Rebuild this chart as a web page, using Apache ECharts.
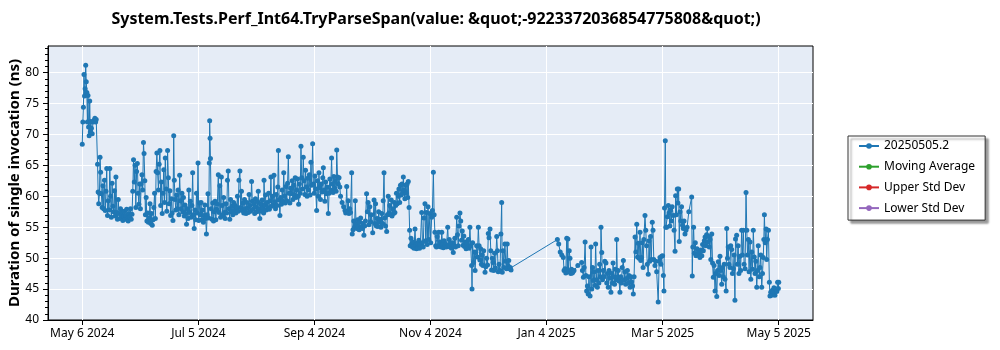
<!DOCTYPE html>
<html><head><meta charset="utf-8">
<script src="https://cdn.jsdelivr.net/npm/echarts@6/dist/echarts.min.js"></script>
<style>html,body{margin:0;padding:0;background:#fff}#c{width:1000px;height:350px}</style>
</head><body><div id="c"></div>
<script>
// x = days since May 6 2024, y = duration (ns)
const chartTitle = 'System.Tests.Perf_Int64.TryParseSpan(value: &quot;-9223372036854775808&quot;)';
const yAxisTitle = 'Duration of single invocation (ns)';
const tickDays = [0, 60.667, 121.333, 182, 242.667, 303.333, 364];
const tickLabels = ['May 6 2024', 'Jul 5 2024', 'Sep 4 2024', 'Nov 4 2024', 'Jan 4 2025', 'Mar 5 2025', 'May 5 2025'];
const yTicks = [40, 45, 50, 55, 60, 65, 70, 75, 80];
const seriesNames = ['20250505.2', 'Moving Average', 'Upper Std Dev', 'Lower Std Dev'];
const seriesColors = ['#1f77b4', '#2ca02c', '#d62728', '#9467bd'];

const spring2024 = [[0.0,68.4],[0.3,72.0],[0.6,74.4],[0.9,79.7],[1.2,76.2],[1.5,77.4],[1.8,81.2],[2.1,78.5],[2.4,76.8],[2.7,72.0],[3.0,76.3],[3.3,71.2],[3.6,69.8],[3.9,75.4],[4.2,70.4],[4.5,72.1],[4.8,71.0],[5.2,70.1],[5.6,72.0],[6.2,72.3],[6.6,72.6],[7.0,72.0],[7.3,72.4],
[8.0,65.2],[8.3,60.7],[8.6,58.8],[9.0,60.5],[9.3,66.3],[9.6,63.9],[10.0,60.4],[10.4,58.2],[10.8,61.7],[11.2,58.0],[11.6,62.6],[12.0,57.7],[12.4,60.8],[12.8,64.5],[13.2,56.9],[13.6,59.3],[14.0,57.8],[14.4,64.5],[14.8,60.0],[15.2,56.6],[15.6,62.1],[16.0,58.4],[16.4,57.5],[16.8,60.9],[17.2,56.8],[17.6,63.1],[18.0,57.4],[18.4,56.3],[18.8,59.5],[19.2,57.2],[19.6,56.4],[20.0,58.0],[20.4,56.9],[20.8,57.5],[21.2,56.1],[21.6,56.8],[22.0,57.6],[22.4,56.3],[22.8,56.9],[23.2,57.9],[23.6,56.4],[24.0,56.0],[24.4,57.2],[24.8,56.6],[25.2,58.0],[25.6,56.3],[26.0,57.1],[26.4,60.8],[26.8,65.9],[27.2,62.3],[27.6,65.0],[28.0,58.2],[28.4,64.0],[28.8,65.3],[29.2,60.5],[29.6,58.7],[30.0,62.0],
[30.4,58.0],[30.8,62.0],[31.2,63.5],[31.6,61.0],[32.0,68.7],[32.3,66.9],[32.7,62.5],[33.0,57.0],[33.4,59.8],[33.8,56.0],[34.2,57.3],[34.6,55.8],[35.0,56.5],[35.4,58.8],[35.8,55.6],[36.2,57.2],[36.6,55.3],[37.0,56.2],[37.4,58.2],[37.8,60.5],[38.2,56.4],[38.6,64.0],[39.0,67.0],[39.4,63.8],[39.8,61.0],[40.2,65.2],[40.6,67.4],[41.0,58.5],[41.4,62.3],[41.8,57.2],
[42.2,60.5],[42.6,64.3],[43.0,59.0],[43.4,66.2],[43.8,61.2],[44.2,57.6],[44.6,67.4],[45.0,63.0],[45.4,58.8],[45.8,60.9],[46.2,56.9],[46.6,59.6],[47.0,57.3],[47.4,56.1],[47.8,69.8],[48.1,62.6],[48.5,59.5],[48.9,57.8],[49.3,60.2],[49.7,58.0],[50.1,61.0],[50.5,57.0],[50.9,63.4],[51.3,59.3],[51.7,58.0],[52.1,60.5],
[52.5,57.5],[52.9,59.8],[53.3,56.8],[53.7,58.6],[54.1,57.2],[54.5,55.5],[54.9,58.0],[55.3,56.4],[55.7,61.0],[56.1,57.4],[56.5,59.2],[56.9,56.6],[57.3,58.5],[57.7,63.8],[58.1,57.0],[58.5,54.8],[58.9,57.8],[59.3,56.2],[59.7,60.5],[60.1,57.3],[60.5,65.4],[60.9,56.1],[61.3,58.9],[61.7,57.0]];

const summer2024 = [[62.1,59.0],[62.5,56.2],[62.9,57.8],[63.3,55.8],[63.7,56.9],[64.1,58.6],[64.5,56.4],[64.9,53.9],[65.3,57.0],[65.7,60.4],[66.1,56.5],[66.4,65.4],[66.6,72.2],[66.8,69.4],[67.0,66.1],[67.4,58.0],[67.8,56.3],[68.2,58.9],[68.6,56.0],[69.0,57.5],[69.4,59.2],[69.8,56.2],[70.2,57.9],[70.6,58.7],[71.1,63.5],[71.5,57.4],[71.9,61.7],[72.3,56.6],[72.7,63.1],[73.1,58.5],[73.5,57.0],[73.9,59.8],[74.3,57.4],[74.7,56.4],[75.1,58.8],[75.5,57.3],[75.9,62.6],[76.3,64.1],[76.7,58.0],[77.1,56.3],[77.5,59.5],[77.9,57.5],[78.3,58.4],[78.7,57.0],[79.1,59.0],[79.5,57.7],[79.9,58.5],[80.3,57.3],[80.7,58.2],[81.1,60.0],[81.5,57.6],[81.9,62.6],[82.4,64.1],[82.8,58.2],[83.2,60.8],[83.6,57.7],
[84.0,58.9],[84.4,57.3],[84.8,59.5],[85.2,58.0],[85.6,57.2],[86.0,59.0],[86.4,58.1],[86.8,57.4],[87.2,60.3],[87.6,58.5],[88.0,57.6],[88.5,62.4],[88.9,59.2],[89.3,57.9],[89.7,58.8],[90.1,57.2],[90.5,59.6],[90.9,58.3],[91.3,57.5],[91.7,59.1],[92.0,60.8],[92.4,58.0],[92.8,56.4],[93.2,58.7],[93.6,57.6],[94.0,59.4],[94.4,58.2],[94.8,57.3],[95.0,62.6],[95.4,58.6],[95.8,60.2],[96.2,57.8],[96.6,59.0],[97.0,58.2],[97.4,60.5],[97.8,57.9],[98.2,59.3],[98.6,63.1],[99.0,58.4],[99.4,60.0],[99.8,58.6],[100.2,63.4],[100.6,59.1],[101.0,58.0],[101.4,60.3],[101.8,58.5],[102.2,61.5],[102.5,67.4],[102.9,59.4],[103.3,56.9],[103.7,59.8],[104.1,58.7],[104.5,61.0],[104.9,59.2],[105.3,63.8],[105.7,60.0],[106.1,58.9],[106.5,61.6],[106.9,59.3],
[107.3,62.1],[107.7,66.4],[108.1,60.5],[108.5,58.9],[108.9,61.3],[109.3,60.4],[109.7,62.5],[110.1,59.5],[110.5,61.8],[110.9,60.2],[111.3,63.0],[111.7,59.8],[112.1,61.0],[112.5,62.8],[112.9,60.0],[113.1,58.7],[113.5,62.0],[113.9,60.5],[114.3,68.1],[114.7,63.0],[115.1,61.2],[115.5,66.3],[115.9,62.5],[116.3,60.3],[116.7,64.2],[117.1,61.5],[117.5,60.0],[117.9,62.9],[118.3,61.0],[118.7,63.5],[119.1,60.2],[119.5,65.5],[119.9,61.8],[120.4,68.5],[120.8,62.0],[121.2,60.5],[121.6,63.3],[122.0,61.2],[122.5,57.7],[122.9,62.5],[123.3,60.0],[123.7,63.8],[124.1,61.4],[124.5,59.5],[124.9,62.0],[125.3,60.7],[125.7,63.0],[126.0,64.6],[126.4,61.0],[126.8,59.2],[127.2,62.3],[127.6,60.4],[128.0,61.5],[128.6,57.2],[129.0,60.5],[129.4,62.8],[129.8,61.0],[130.3,66.2],[130.7,62.0],[131.1,60.6],[131.5,63.2],[131.9,61.3],[132.3,62.5],[132.7,60.8],[133.0,67.5],[133.4,63.1],[133.8,62.0]];

const autumn2024 = [[134.2,63.0],[134.6,61.5],[135.0,60.0],[135.8,59.0],[136.6,58.3],[137.3,57.7],[137.7,57.3],[138.2,61.6],[138.6,57.5],[139.0,59.3],[139.4,57.2],[139.8,58.0],[140.2,57.4],[140.8,63.8],[141.1,53.9],[141.5,54.6],[141.9,56.0],[142.3,55.0],[142.7,59.3],[143.1,55.5],[143.5,54.8],[143.9,56.2],[144.3,55.1],[144.7,54.6],[145.1,55.8],[145.5,56.5],[145.9,55.0],[146.3,54.8],[146.7,55.6],[147.2,53.7],[147.6,55.2],[148.0,56.0],[148.6,60.4],[149.0,57.5],[149.4,59.0],[149.8,55.4],[150.3,58.3],[150.7,55.9],[151.1,57.0],[151.8,54.1],[152.5,59.4],[152.9,55.6],[153.3,58.8],[153.7,55.2],[154.1,56.4],[154.5,55.1],[154.9,57.5],[155.3,55.8],[155.7,56.3],[156.1,55.0],[156.5,57.2],[157.0,55.6],[157.3,59.3],[157.7,63.8],
[158.1,56.5],[158.5,55.2],[159.1,54.3],[159.5,57.0],[159.9,60.0],[160.3,57.3],[160.7,58.5],[161.1,57.0],[161.5,59.4],[161.9,56.8],[162.3,58.0],[162.7,57.2],[163.1,59.0],[163.4,57.4],[163.8,58.5],[164.2,60.5],[164.6,58.8],[165.2,60.0],[165.5,61.2],[165.9,59.0],[166.3,61.8],[166.7,60.2],[167.1,62.0],[167.5,60.5],[167.8,63.1],[168.2,61.0],[168.6,59.6],[169.0,61.8],[169.4,60.5],[169.8,62.0],[170.1,59.8],[170.4,62.4],[170.8,58.2],[171.1,54.5],[171.4,52.0],[171.8,53.2],[172.2,52.3],[172.6,51.8],[173.0,52.6],[173.4,51.6],[173.9,54.7],[174.3,52.1],[174.7,51.5],[175.1,52.4],[175.5,51.7],[175.9,52.9],[176.3,51.6],[176.7,52.3],
[177.4,57.4],[177.8,52.5],[178.2,51.8],[178.6,56.5],[179.1,58.8],[179.5,52.8],[179.9,57.4],[180.3,52.2],[180.7,58.3],[181.1,53.0],[181.7,57.2],[182.1,52.5],[182.6,56.6],[183.0,57.7],[183.5,63.9],[183.9,57.0],[184.3,54.2],[184.7,52.0],[185.1,51.8],[185.5,53.5],[185.9,52.0],[186.3,54.2],[186.7,51.9],[187.1,52.6],[187.5,51.8],[187.9,54.2],[188.3,52.2],[188.7,51.7],[189.1,52.8],[189.5,51.9],[189.9,52.3],[190.3,51.8],
[191.0,55.0],[191.4,52.0],[191.8,53.0],[192.2,51.8],[192.6,52.4],[193.0,51.6],[193.5,52.5],[193.9,50.9],[194.3,52.0],[194.7,53.2],[195.1,51.8],[195.7,56.6],[196.1,53.8],[196.5,52.0],[196.9,55.2],[197.4,57.3],[197.8,56.0],[198.2,52.9],[198.6,54.4],[199.0,52.1],[199.4,53.6],[199.8,51.9],[200.2,52.6],[200.6,51.5],[201.0,52.4],[201.4,51.8],[201.8,53.0],[202.2,51.6],[202.6,55.0],[203.0,52.0],[203.5,48.8],[203.7,45.0],[204.0,52.5],[204.5,49.3],[204.9,51.0],[205.3,48.0],[205.7,50.9],[206.1,52.0],[206.5,50.2],[207.0,55.0],[207.4,52.0],[207.8,49.7],[208.2,51.5],[208.6,49.0],[209.0,50.5],[209.4,48.8],[209.8,51.2],[210.5,47.7],[210.9,48.6],[211.3,50.0],[211.8,48.9],[212.2,54.0],[212.6,53.3],[213.1,54.7],[213.5,51.2],[213.9,48.1],[214.3,50.0],[214.7,49.3],[215.1,48.0],[215.5,50.8],[215.9,48.4],[216.6,53.5],[217.0,51.2],[217.4,47.8],[217.8,49.0],[218.3,48.0],[218.8,53.9],[219.2,59.0],[219.5,47.7],[219.9,51.2],[220.3,48.5],[220.9,52.3],[221.3,49.5],[221.7,48.3],[222.1,52.3],[222.5,48.8],[222.9,49.6],[223.3,48.3],[223.7,48.5],[224.1,48.1]];

const spring2025 = [[248.3,53.0],[249.0,52.3],[249.8,51.0],[250.6,50.5],[251.4,50.1],[251.8,48.0],[252.3,48.3],[252.7,47.6],[253.2,53.2],[253.5,48.2],[253.8,53.1],[254.1,47.8],[254.5,51.2],[254.9,50.0],[255.3,47.5],[255.7,48.2],[256.1,47.6],[256.5,47.8],[257.0,48.0],[259.0,48.8],[261.0,49.3],[261.4,48.0],[261.9,46.9],[262.3,48.5],[262.8,52.6],[263.2,47.2],[263.6,44.7],[264.0,45.5],[264.4,44.2],[264.8,47.0],[265.4,43.9],[265.9,51.8],[266.3,45.0],[266.7,48.5],[267.1,46.4],[267.5,47.8],[267.9,45.6],[268.3,52.3],[268.8,46.5],[269.2,45.3],[269.6,48.0],[270.0,46.0],[270.4,49.0],[270.8,47.0],[271.1,55.0],[271.5,50.9],[271.9,46.5],[272.3,48.0],[272.7,47.0],[273.1,49.5],[273.7,49.2],[274.1,46.0],[274.5,47.5],[274.9,45.3],[275.3,48.0],[275.7,46.8],[276.3,44.5],[276.7,47.5],[277.1,46.0],[277.4,49.2],[277.8,47.0],[278.2,45.8],[278.6,48.2],[279.0,46.5],[279.3,53.0],[279.7,46.9],[280.1,48.0],[280.5,46.3],[281.0,44.5],[281.4,47.0],[281.8,46.0],[282.2,48.5],[282.8,49.6],[283.2,46.5],[283.6,47.8],[284.0,45.8],[284.5,46.7],[284.9,48.0],[285.3,46.0],[285.7,47.2],[286.3,45.3],[286.7,47.0],[287.1,46.2],[287.6,45.5],[288.0,44.2],[288.4,47.0],[288.9,53.4],[289.3,51.0],[289.8,55.5],
[290.2,50.2],[290.6,52.4],[291.0,50.0],[291.5,54.2],[291.9,49.6],[292.3,50.1],[292.7,52.5],[293.1,48.5],[293.5,53.0],[294.1,56.9],[294.5,54.5],[294.9,52.0],[295.3,49.0],[295.8,47.4],[296.2,52.8],[296.6,49.5],[297.0,53.5],[297.4,49.8],[297.9,55.8],[298.3,54.5],[298.7,49.8],[299.3,48.8],[299.7,49.5],[300.2,47.8],[301.0,42.9],[301.5,49.5],[301.9,50.1],[302.4,49.0],[302.8,50.3],[303.3,50.4],[303.7,47.2],[304.0,44.7],[304.3,58.1],[304.7,69.0],[305.0,55.0],
[305.4,55.0],[305.8,56.7],[306.3,58.5],[306.7,57.3],[307.1,55.2],[307.5,57.8],[307.9,56.0],[308.3,58.3],[308.9,56.9],[309.3,54.5],[309.8,51.1],[310.1,60.1],[310.5,57.0],[311.0,61.2],[311.3,58.9],[311.7,61.2],[312.0,52.7],[312.4,57.5],[312.8,56.0],[313.2,58.3],[313.7,55.3],[314.1,54.8],[314.5,56.0],[315.0,53.9],[315.5,54.5],[316.1,55.0],[317.0,57.5],[318.5,59.9],[318.8,47.1],[319.1,51.8],[319.5,55.0],
[319.9,50.8],[320.4,52.5],[320.8,50.4],[321.3,51.5],[321.8,50.6],[322.3,51.0],[322.8,50.1],[323.3,51.3],[323.8,50.4],[324.2,52.2],[324.6,51.2],[325.1,52.8],[325.5,53.4],[325.9,52.0],[326.3,53.8],[326.7,54.8],[327.1,52.6],[327.4,53.5],[327.7,51.8],[328.1,53.0],[328.5,49.8],[329.0,53.9],[329.4,49.2],[329.8,46.9],[330.2,48.8],[330.7,44.7],[331.1,47.5],[331.6,43.8],[332.0,48.0],[332.4,49.4],[332.8,47.2],[333.3,50.3],[333.7,48.0],[334.2,45.8],[334.6,48.5],[335.0,47.0],[335.5,49.0],[335.9,46.6],[336.5,44.7],[336.8,54.8],[337.2,50.0],[337.6,51.8],[338.0,49.0],[338.5,48.5],[338.9,52.0],[339.4,51.4],[339.8,47.5],[340.3,48.3],[340.7,50.5],[341.1,43.2],[341.4,53.1],[342.0,53.7],[342.4,49.0],[342.8,52.0],[343.2,47.5],[343.7,50.3],[344.1,48.0],[344.6,54.5],[345.0,50.5],[345.5,54.5],[345.9,49.0],[346.4,48.3],[346.9,60.6],[347.3,54.5],[347.7,50.5],[348.1,53.0],[348.5,47.8],[349.0,52.6],[349.4,46.6],[349.9,51.0],[350.3,48.2],[350.7,54.5],[351.2,50.2],[351.6,47.5],[352.0,49.5],[352.5,45.3],[352.9,48.0],[353.3,52.0],[353.8,47.0],[354.2,48.5],[354.6,50.5],[355.1,45.3],[355.5,47.5],[355.9,50.1],[356.2,53.0],[356.5,57.0],[356.9,52.5],[357.4,54.7],[357.7,49.8],[358.1,53.0],[358.6,54.5],[359.1,46.1],[359.4,43.9],[359.8,44.5],[360.3,44.0],[360.7,44.8],[361.1,44.5],[361.5,45.2],[362.0,44.0],[362.5,45.0],[363.0,44.6],[363.4,46.1],[363.8,45.1],[364.0,46.1]];

const mainSeries = spring2024.concat(summer2024, autumn2024, spring2025);

const FONT = '"Noto Sans", "Open Sans", sans-serif';
const chart = echarts.init(document.getElementById('c'), null, {renderer: 'canvas'});
chart.setOption({
  animation: false,
  backgroundColor: '#ffffff',
  textStyle: {fontFamily: FONT},
  grid: {left: 48, top: 46, right: 187, bottom: 30, outerBoundsMode: 'none', containLabel: false,
    show: true, backgroundColor: '#E5ECF6', borderColor: '#000', borderWidth: 1},
  graphic: [{
    type: 'text', x: 436, y: 19, z: 10,
    style: {text: chartTitle, fontFamily: FONT, fontSize: 16, fontWeight: 'bold', fill: '#000', textAlign: 'center', textVerticalAlign: 'middle'}
  }],
  legend: {
    orient: 'vertical', left: 848, top: 136,
    padding: [4, 10, 6, 10], itemGap: 8.7, itemWidth: 20, itemHeight: 7,
    backgroundColor: '#fff', borderColor: '#333', borderWidth: 1,
    shadowColor: 'rgba(0,0,0,0.4)', shadowOffsetX: 3, shadowOffsetY: 3, shadowBlur: 2,
    textStyle: {fontSize: 12, color: '#000', fontFamily: FONT},
    data: seriesNames
  },
  xAxis: {
    type: 'value', min: -17.9, max: 381.9,
    axisLine: {show: true, onZero: false, lineStyle: {color: '#000', width: 1}},
    axisTick: {show: true, length: 5, lineStyle: {color: '#000'}, customValues: tickDays},
    axisLabel: {customValues: tickDays, fontSize: 12, color: '#000', margin: 8,
      formatter: v => tickLabels[tickDays.indexOf(v)] || ''},
    splitLine: {show: true, lineStyle: {color: '#fff', width: 1}}
  },
  yAxis: {
    type: 'value', min: 40, max: 84.3, interval: 5,
    name: yAxisTitle, nameLocation: 'middle', nameGap: 26, nameMoveOverlap: false,
    nameTextStyle: {fontSize: 15, fontWeight: 'bold', color: '#000', fontFamily: FONT},
    axisLine: {show: true, onZero: false, lineStyle: {color: '#000', width: 1}},
    axisTick: {show: true, length: 5, lineStyle: {color: '#000'}, customValues: yTicks},
    minorTick: {show: true, splitNumber: 5, length: 3, lineStyle: {color: '#000'}},
    axisLabel: {customValues: yTicks, fontSize: 12, color: '#000', margin: 9},
    splitLine: {show: true, lineStyle: {color: '#fff', width: 1}}
  },
  series: seriesNames.map((name, i) => ({
    name, type: 'line',
    data: i === 0 ? mainSeries : [],
    color: seriesColors[i],
    symbol: 'circle', symbolSize: 5,
    lineStyle: {width: 1, color: seriesColors[i]},
    itemStyle: {color: seriesColors[i]},
    emphasis: {disabled: true}
  }))
});
</script>
</body></html>
